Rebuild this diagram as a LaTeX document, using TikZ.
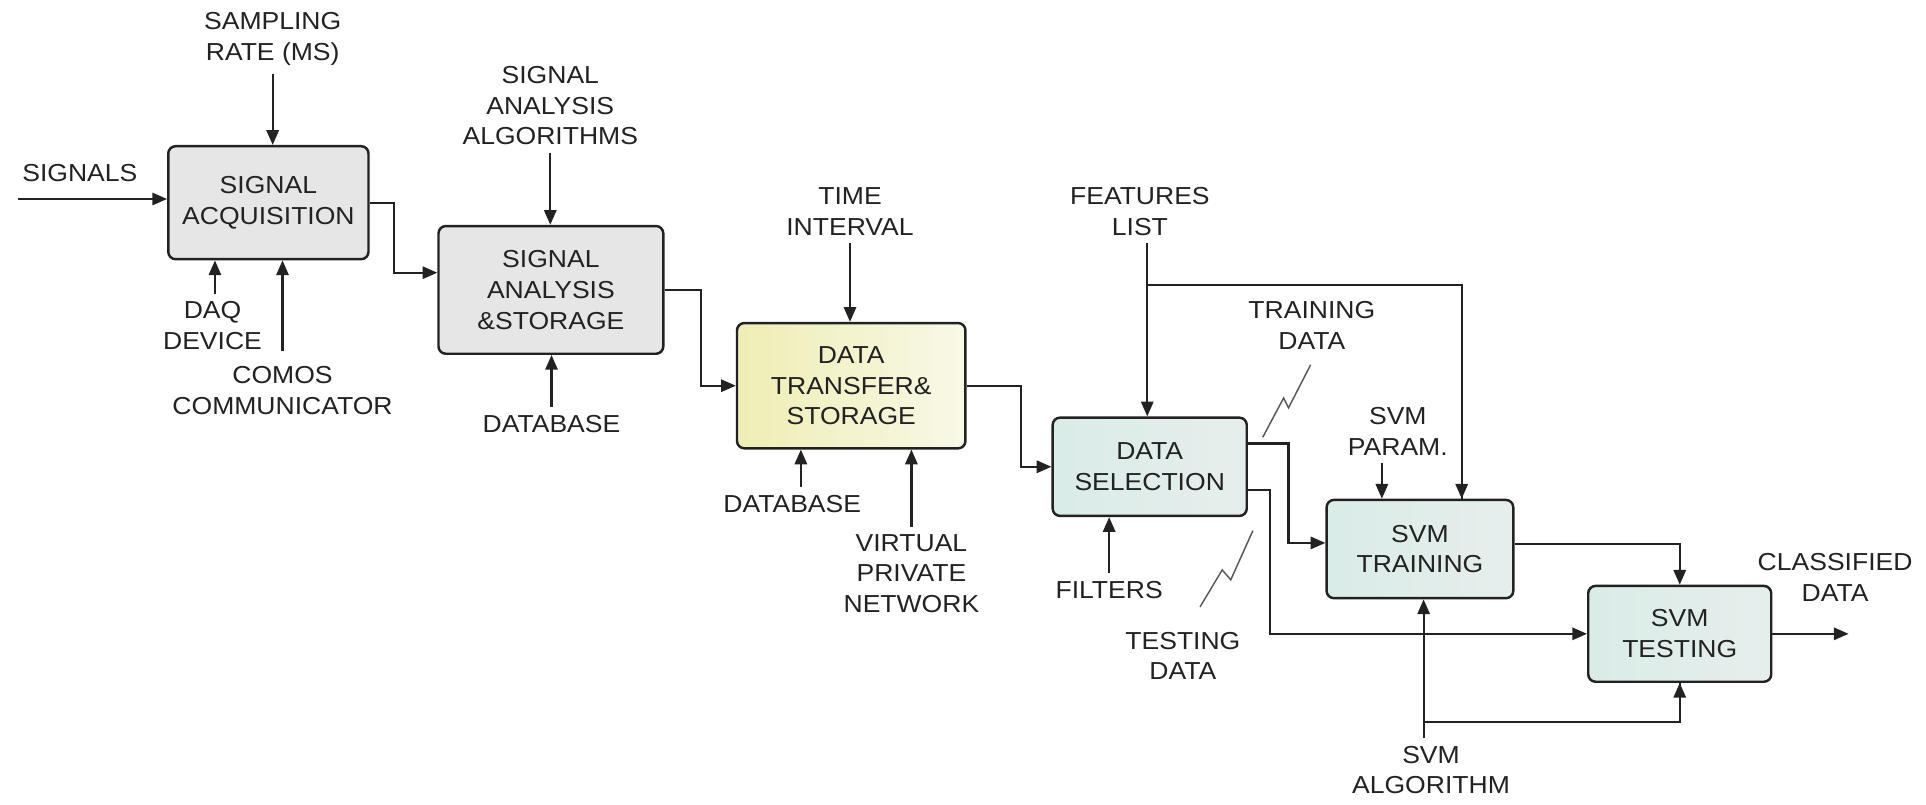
\documentclass[tikz,border=0pt]{standalone}
\usepackage{fontspec}
\setmainfont{Liberation Sans}[FakeStretch=1.08]
\usetikzlibrary{arrows.meta}
\definecolor{ink}{HTML}{222222}
\definecolor{boxgray}{HTML}{E6E6E6}
\definecolor{yelL}{RGB}{238,238,180}
\definecolor{yelR}{RGB}{248,248,232}
\definecolor{tealL}{RGB}{218,236,231}
\definecolor{tealR}{RGB}{230,238,236}
\newcommand\dgfont{\fontsize{10pt}{12.5pt}\selectfont}
\begin{document}
\begin{tikzpicture}[x=0.5pt,y=-0.5pt,
  blk/.style={draw=ink, line width=1pt, rounded corners=3pt, align=center, text=ink, font=\dgfont, inner sep=2pt},
  graybox/.style={blk, fill=boxgray},
  yelbox/.style={blk, left color=yelL, right color=yelR},
  tealbox/.style={blk, left color=tealL, right color=tealR},
  lbl/.style={align=center, text=ink, font=\dgfont, inner sep=3pt},
  arr/.style={draw=ink, line width=0.9pt, -{Triangle[length=6pt,width=5pt]}},
  wire/.style={draw=ink, line width=0.9pt},
  bolt/.style={draw=ink!75, line width=0.6pt}]
\useasboundingbox (0,0) rectangle (1568,655);

% blocks
\node[graybox, minimum width=81.5pt, minimum height=46pt] (acq) at (218.5,165) {SIGNAL\\ACQUISITION};
\node[graybox, minimum width=91.5pt, minimum height=52pt] (ana) at (448.5,236) {SIGNAL\\ANALYSIS\\\&STORAGE};
\node[yelbox, minimum width=93pt, minimum height=51pt] (dts) at (693,314) {DATA\\TRANSFER\&\\STORAGE};
\node[tealbox, minimum width=79pt, minimum height=40pt] (sel) at (936,380) {DATA\\SELECTION};
\node[tealbox, minimum width=76pt, minimum height=40pt] (trn) at (1156,447) {SVM\\TRAINING};
\node[tealbox, minimum width=74.5pt, minimum height=39pt] (tst) at (1367.5,516) {SVM\\TESTING};

% labels
\node[lbl] (signals) at (65,141) {SIGNALS};
\node[lbl] (samp) at (222,32) {SAMPLING\\RATE (MS)};
\node[lbl] (daq) at (173,265) {DAQ\\DEVICE};
\node[lbl] (comos) at (230,318) {COMOS\\COMMUNICATOR};
\node[lbl] (algos) at (448,86) {SIGNAL\\ANALYSIS\\ALGORITHMS};
\node[lbl] (db1) at (449,345) {DATABASE};
\node[lbl] (time) at (692,172) {TIME\\INTERVAL};
\node[lbl] (db2) at (645,410) {DATABASE};
\node[lbl] (vpn) at (742,467) {VIRTUAL\\PRIVATE\\NETWORK};
\node[lbl] (feat) at (928,172) {FEATURES\\LIST};
\node[lbl] (trdata) at (1068,265) {TRAINING\\DATA};
\node[lbl] (tsdata) at (963,534) {TESTING\\DATA};
\node[lbl] (filters) at (903,480) {FILTERS};
\node[lbl] (svmparam) at (1138,351) {SVM\\PARAM.};
\node[lbl] (svmalg) at (1165,627) {SVM\\ALGORITHM};
\node[lbl] (classified) at (1494,470) {CLASSIFIED\\DATA};

% free ends and junctions
\coordinate (sin) at (15,162);
\coordinate (out) at (1505,516);
\coordinate (fj) at (934,232);
\coordinate (aj) at (1159,588);
\coordinate (db2x) at (652,0);
\coordinate (daqx) at (175,0);
\coordinate (pa) at ([xshift=-15.5pt]trn.north);
\coordinate (fb) at ([xshift=17pt]trn.north);

% input arrows
\draw[arr] (sin) -- (sin -| acq.west);
\draw[arr] (samp.south) -- (samp.south |- acq.north);
\draw[arr] (daq.north -| daqx) -- (daqx |- acq.south);
\draw[arr] ([yshift=3pt]comos.north) -- (comos.north |- acq.south);
\draw[arr] (algos.south) -- (algos.south |- ana.north);
\draw[arr] (db1.north) -- (db1.north |- ana.south);
\draw[arr] (time.south) -- (time.south |- dts.north);
\draw[arr] (db2.north -| db2x) -- (db2x |- dts.south);
\draw[arr] (vpn.north) -- (vpn.north |- dts.south);
\draw[arr] (feat.south -| fj) -- (fj |- sel.north);
\draw[wire] (fj) -| (fb);
\draw[arr] (fj -| fb) -- (fb);
\draw[arr] (filters.north) -- (filters.north |- sel.south);
\draw[arr] (svmparam.south -| pa) -- (pa);
\draw[arr] (svmalg.north -| aj) -- (aj |- trn.south);
\draw[wire] (aj) -| (tst.south);
\draw[arr] (aj -| tst.south) -- (tst.south);

% flow connectors
\draw[arr] (acq.east) -- ++(10pt,0) |- ([yshift=7pt]ana.west);
\draw[arr] (ana.east) -- ++(15pt,0) |- (dts.west);
\draw[arr] (dts.east) -- ++(22pt,0) |- (sel.west);
\draw[arr] ([yshift=9.5pt]sel.east) -- ++(16.5pt,0) |- ([yshift=2.5pt]trn.west);
\draw[arr] ([yshift=-9.5pt]sel.east) -- ++(9pt,0) |- (tst.west);
\draw[wire] ([yshift=2pt]trn.east) -| ([yshift=10pt]tst.north);
\draw[arr] ([yshift=10pt]tst.north) -- (tst.north);
\draw[arr] (tst.east) -- (out);

% lightning marks
\coordinate (b1a) at (1028,356);
\coordinate (b1b) at (1045,324);
\coordinate (b1c) at (1049,332);
\coordinate (b1d) at (1067,297);
\draw[bolt] (b1a) -- (b1b) -- (b1c) -- (b1d);
\coordinate (b2a) at (977,494);
\coordinate (b2b) at (995,464);
\coordinate (b2c) at (1002,472);
\coordinate (b2d) at (1020,432);
\draw[bolt] (b2a) -- (b2b) -- (b2c) -- (b2d);
\end{tikzpicture}
\end{document}
